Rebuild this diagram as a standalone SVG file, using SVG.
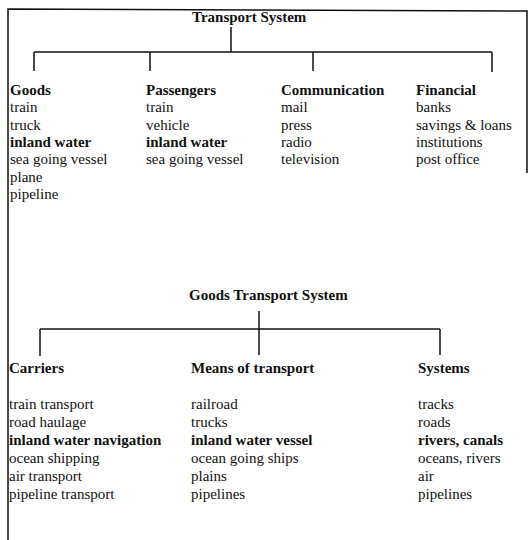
<svg xmlns="http://www.w3.org/2000/svg" width="528" height="540" viewBox="0 0 528 540">
<style>
text{font-family:"Liberation Serif","Times New Roman",serif;font-size:15px;fill:#111}
.b{font-weight:bold}
.ln{stroke:#111;stroke-width:1.5;fill:none}
</style>
<rect width="528" height="540" fill="#fff"/>
<g id="frame"><polyline class="ln" points="8,540 8,9 527,11 527,173"/></g>
<g id="connectors">
<line class="ln" x1="231" y1="27" x2="231" y2="52"/>
<line class="ln" x1="34" y1="52" x2="492" y2="52"/>
<line class="ln" x1="34" y1="52" x2="34" y2="71"/>
<line class="ln" x1="150" y1="52" x2="150" y2="71"/>
<line class="ln" x1="313" y1="52" x2="313" y2="71"/>
<line class="ln" x1="492" y1="52" x2="492" y2="72"/>
<line class="ln" x1="259" y1="311" x2="259" y2="355"/>
<line class="ln" x1="40" y1="329" x2="440" y2="329"/>
<line class="ln" x1="40" y1="329" x2="40" y2="356"/>
<line class="ln" x1="440" y1="329" x2="440" y2="355"/>
</g>
<g id="transport-system"><text class="b" x="192" y="22">Transport System</text></g>
<g id="goods"><text class="b" x="10" y="95">Goods</text>
<text x="10" y="112">train</text><text x="10" y="129.5">truck</text><text class="b" x="10" y="147">inland water</text><text x="10" y="164">sea going vessel</text><text x="10" y="181.5">plane</text><text x="10" y="199">pipeline</text></g>
<g id="passengers"><text class="b" x="146" y="95">Passengers</text>
<text x="146" y="112">train</text><text x="146" y="129.5">vehicle</text><text class="b" x="146" y="147">inland water</text><text x="146" y="164">sea going vessel</text></g>
<g id="communication"><text class="b" x="281" y="95">Communication</text>
<text x="281" y="112">mail</text><text x="281" y="129.5">press</text><text x="281" y="147">radio</text><text x="281" y="164">television</text></g>
<g id="financial"><text class="b" x="416" y="95">Financial</text>
<text x="416" y="112">banks</text><text x="416" y="129.5">savings &amp; loans</text><text x="416" y="147">institutions</text><text x="416" y="164">post office</text></g>
<g id="goods-transport-system"><text class="b" x="189" y="300">Goods Transport System</text></g>
<g id="carriers"><text class="b" x="9" y="373">Carriers</text>
<text x="9" y="409">train transport</text><text x="9" y="427">road haulage</text><text class="b" x="9" y="445">inland water navigation</text><text x="9" y="463">ocean shipping</text><text x="9" y="481">air transport</text><text x="9" y="499">pipeline transport</text></g>
<g id="means"><text class="b" x="191" y="373">Means of transport</text>
<text x="191" y="409">railroad</text><text x="191" y="427">trucks</text><text class="b" x="191" y="445">inland water vessel</text><text x="191" y="463">ocean going ships</text><text x="191" y="481">plains</text><text x="191" y="499">pipelines</text></g>
<g id="systems"><text class="b" x="418" y="373">Systems</text>
<text x="418" y="409">tracks</text><text x="418" y="427">roads</text><text class="b" x="418" y="445">rivers, canals</text><text x="418" y="463">oceans, rivers</text><text x="418" y="481">air</text><text x="418" y="499">pipelines</text></g>
</svg>
